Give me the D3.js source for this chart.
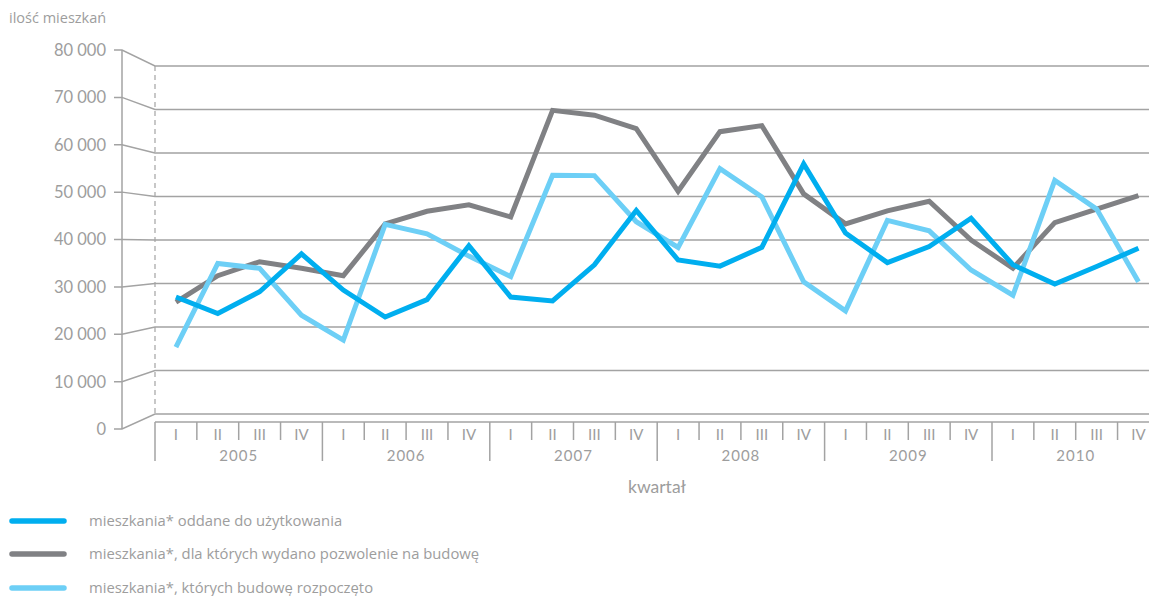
<!DOCTYPE html>
<html><head><meta charset="utf-8">
<script src="https://cdn.jsdelivr.net/npm/d3@7"></script>
<style>
html,body{margin:0;padding:0;background:#fff;}
text{font-family:Lato,"Open Sans",sans-serif;fill:#9d9d9d;}
text.leg{font-family:"Open Sans",sans-serif;}
</style></head>
<body><svg id="c" width="1149" height="596"></svg>
<script>
const years = ["2005","2006","2007","2008","2009","2010"];
const quarters = ["I","II","III","IV"];
const yTicks = [0,10000,20000,30000,40000,50000,60000,70000,80000];
const oddane = [26900,23100,28100,36800,28500,22300,26300,38700,26900,26000,34300,46800,35400,34000,38300,57500,41600,34800,38500,45000,34300,29900,33900,38100];
const pozwolenia = [25700,31800,35000,33500,31800,43700,46600,48100,45300,69800,68700,65600,51200,64900,66300,50600,43700,46700,48900,40000,33500,44000,47100,50200];
const rozpoczete = [15400,34600,33500,22700,17000,43600,41400,36300,31600,54900,54800,44200,38300,56400,49900,30400,23700,44500,42100,33100,27300,53700,47100,30400];
const seriesNames = ["mieszkania* oddane do użytkowania","mieszkania*, dla których wydano pozwolenie na budowę","mieszkania*, których budowę rozpoczęto"];
const seriesColors = ["#00aeef","#808184","#6dcff6"];

const svg = d3.select("#c");
const grid = "#a3a3a3";
const labels = [];
years.forEach(y=>quarters.forEach(q=>labels.push(y+"-"+q)));
const x = d3.scaleBand().domain(labels).range([155, 155+24*41.85]).padding(0);
const yBack = d3.scaleLinear().domain([0,80000]).range([414,66]);
const yFront = d3.scaleLinear().domain([0,80000]).range([429,50]);
const fmt = v => v===0 ? "0" : d3.format(",")(v).replace(/,/g," ");

// front axis
svg.append("line").attr("x1",122).attr("x2",122).attr("y1",yFront(80000)).attr("y2",yFront(0)).attr("stroke",grid).attr("stroke-width",1.5);
// dashed back axis
svg.append("line").attr("x1",155).attr("x2",155).attr("y1",yBack(80000)).attr("y2",yBack(0)).attr("stroke",grid).attr("stroke-width",1.2).attr("stroke-dasharray","5,4");
yTicks.forEach(v=>{
  svg.append("path").attr("d",`M114,${yFront(v)}H122L155,${yBack(v)}H1149`).attr("fill","none").attr("stroke",grid).attr("stroke-width",1.5);
  svg.append("text").attr("x",106).attr("y",yFront(v)).attr("dy","0.36em").attr("text-anchor","end").attr("font-size",16.5).text(fmt(v));
});
svg.append("text").attr("class","leg").attr("x",9).attr("y",18).attr("dy","0.35em").attr("font-size",14.5).text("ilość mieszkań");

// category box
const bt = 422;
svg.append("line").attr("x1",155).attr("x2",1149).attr("y1",bt).attr("y2",bt).attr("stroke",grid).attr("stroke-width",1.5);
labels.forEach((l,i)=>{
  const x0 = x(l);
  const isYear = i%4===0;
  svg.append("line").attr("x1",x0).attr("x2",x0).attr("y1",bt).attr("y2",isYear?461:440).attr("stroke",grid).attr("stroke-width",1.5);
  svg.append("text").attr("x",x0+x.bandwidth()/2).attr("y",434.5).attr("dy","0.36em").attr("text-anchor","middle").attr("font-size",15).text(quarters[i%4]);
});
years.forEach((y,i)=>{
  const xs = x(y+"-I"), xe = x(y+"-IV")+x.bandwidth();
  svg.append("text").attr("x",(xs+xe)/2).attr("y",456).attr("dy","0.36em").attr("text-anchor","middle").attr("font-size",15).attr("letter-spacing","1px").text(y);
});
svg.append("text").attr("x",657).attr("y",487).attr("dy","0.35em").attr("text-anchor","middle").attr("font-size",17.5).text("kwartał");

// lines
const line = d3.line().x((d,i)=>x(labels[i])+x.bandwidth()/2).y(d=>yBack(d));
[pozwolenia, rozpoczete, oddane].forEach((s)=>{
  const idx = s===oddane?0:(s===pozwolenia?1:2);
  svg.append("path").datum(s).attr("d",line).attr("fill","none").attr("stroke",seriesColors[idx]).attr("stroke-width",5).attr("stroke-linejoin","miter").attr("stroke-linecap","butt");
});

// legend
const ly = [521,554,588];
seriesNames.forEach((n,i)=>{
  svg.append("line").attr("x1",12).attr("x2",64).attr("y1",ly[i]).attr("y2",ly[i]).attr("stroke",seriesColors[i]).attr("stroke-width",5.5).attr("stroke-linecap","round");
  svg.append("text").attr("class","leg").attr("x",89).attr("y",ly[i]).attr("dy","0.35em").attr("font-size",14.8).text(n);
});
</script></body></html>
